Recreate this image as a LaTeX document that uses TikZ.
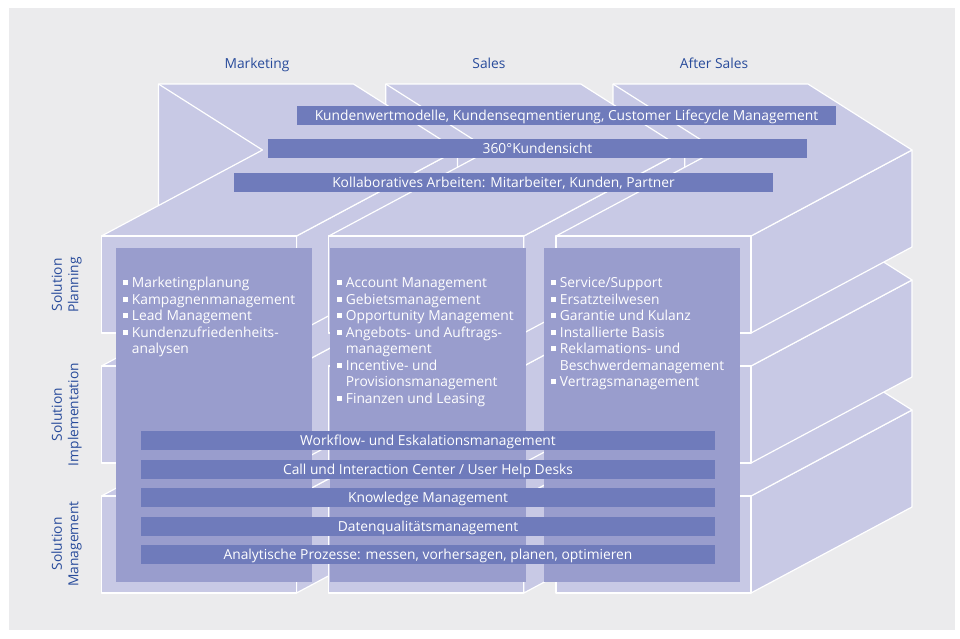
\documentclass[tikz,border=0pt]{standalone}
\usepackage{fontspec}
\setmainfont{Open Sans}
\definecolor{bgc}{HTML}{EBEBED}
\definecolor{lav}{HTML}{C8C9E5}
\definecolor{panc}{HTML}{999DCD}
\definecolor{barc}{HTML}{6F7BBB}
\definecolor{hdrc}{HTML}{284B9B}
\newcommand\lst{\fontsize{13.8}{16.5}\selectfont}
\newcommand\bul{\makebox[9.2pt][l]{\raisebox{2.5pt}{\rule{5pt}{5pt}}}}
\tikzset{
  edge/.style={draw=white, line width=1.2pt, line join=round},
  face/.style={fill=lav, draw=white, line width=1.2pt, line join=round},
  bar/.style={fill=barc, text=white, inner sep=0pt, minimum height=19pt, text height=9.8pt, text depth=0pt, font=\lst},
  hdr/.style={text=hdrc, font=\lst, anchor=base, inner sep=0pt},
  rowl/.style={text=hdrc, font=\lst, rotate=90, align=center, inner sep=0pt},
  li/.style={text=white, font=\lst, anchor=base west, inner sep=0pt},
}
% chevron backdrop of one box: #1 = front-left x, #2 = front-top y
\newcommand\crmchev[2]{%
  \fill[lav] (#1+57,#2-152) -- (#1+252,#2-152) -- (#1+356,#2-86) -- (#1+252,#2-20) -- (#1+57,#2-20) -- cycle;
  \draw[edge] (#1+57,#2-20) -- (#1+57,#2-152) -- (#1+252,#2-152) -- (#1+356,#2-86) -- (#1+252,#2-20);
  \draw[edge] (#1+57,#2-152) -- (#1+161,#2-86) -- (#1+57,#2-20);}
% box: right face, top face, front face
\newcommand\crmbox[2]{%
  \path[face] (#1+195,#2) -- (#1+356,#2-86) -- (#1+356,#2+11) -- (#1+195,#2+97) -- cycle;
  \fill[lav] (#1,#2) -- (#1+195,#2) -- (#1+356,#2-86) -- (#1+161,#2-86) -- cycle;
  \draw[edge] (#1+161,#2-86) -- (#1,#2) -- (#1+195,#2) -- (#1+356,#2-86);
  \path[face] (#1,#2) rectangle (#1+195,#2+97);}
\begin{document}
\begin{tikzpicture}[x=1pt,y=-1pt]
\useasboundingbox (0,0) rectangle (960,638);
\fill[white] (0,0) rectangle (960,638);
\fill[bgc] (9,8) rectangle (955,630);
% 3D blocks, drawn back to front
\foreach \yy in {496,366,236} {
  \foreach \xx in {556,328.8,101.5} {\crmchev{\xx}{\yy}}
  \foreach \xx in {101.5,328.8,556} {\crmbox{\xx}{\yy}}
}
% content panels
\fill[panc] (116,248) rectangle (312,582);
\fill[panc] (330,248) rectangle (526,582);
\fill[panc] (544,248) rectangle (740,582);
% headers
\node[hdr] (h1) at (257,68.5) {Marketing};
\node[hdr] (h2) at (489,68.5) {Sales};
\node[hdr] (h3) at (714,68.5) {After Sales};
% row labels
\node[rowl] (r1) at (66.5,285) {Solution\\Planning};
\node[rowl] (r2) at (66.5,414.5) {Solution\\Implementation};
\node[rowl] (r3) at (66.5,544) {Solution\\Management};
% top bars
\node[bar, minimum width=539pt] (t1) at (566.5,115.5) {Kundenwertmodelle, Kundenseqmentierung, Customer Lifecycle Management};
\node[bar, minimum width=539pt] (t2) at (537.5,148.5) {360°Kundensicht};
\node[bar, minimum width=539pt] (t3) at (503.5,182.5) {Kollaboratives Arbeiten: Mitarbeiter, Kunden, Partner};
% bottom bars
\node[bar, minimum width=574pt] (b1) at (428,440.5) {Workflow- und Eskalationsmanagement};
\node[bar, minimum width=574pt] (b2) at (428,469.5) {Call und Interaction Center / User Help Desks};
\node[bar, minimum width=574pt] (b3) at (428,497.5) {Knowledge Management};
\node[bar, minimum width=574pt] (b4) at (428,526.5) {Datenqualitätsmanagement};
\node[bar, minimum width=574pt] (b5) at (428,554.5) {Analytische Prozesse: messen, vorhersagen, planen, optimieren};
% Marketing list
\node[li] (m1) at (122.5,287.5) {\bul Marketingplanung};
\node[li] (m2) at (122.5,304) {\bul Kampagnenmanagement};
\node[li] (m3) at (122.5,320.5) {\bul Lead Management};
\node[li] (m4) at (122.5,337) {\bul Kundenzufriedenheits-};
\node[li] (m5) at (131.7,353.5) {analysen};
% Sales list
\node[li] (s1) at (336.5,287.5) {\bul Account Management};
\node[li] (s2) at (336.5,304) {\bul Gebietsmanagement};
\node[li] (s3) at (336.5,320.5) {\bul Opportunity Management};
\node[li] (s4) at (336.5,337) {\bul Angebots- und Auftrags-};
\node[li] (s5) at (345.7,353.5) {management};
\node[li] (s6) at (336.5,370) {\bul Incentive- und};
\node[li] (s7) at (345.7,386.5) {Provisionsmanagement};
\node[li] (s8) at (336.5,403) {\bul Finanzen und Leasing};
% After Sales list
\node[li] (a1) at (550.5,287.5) {\bul Service/Support};
\node[li] (a2) at (550.5,304) {\bul Ersatzteilwesen};
\node[li] (a3) at (550.5,320.5) {\bul Garantie und Kulanz};
\node[li] (a4) at (550.5,337) {\bul Installierte Basis};
\node[li] (a5) at (550.5,353.5) {\bul Reklamations- und};
\node[li] (a6) at (559.7,370) {Beschwerdemanagement};
\node[li] (a7) at (550.5,386.5) {\bul Vertragsmanagement};
\end{tikzpicture}
\end{document}
